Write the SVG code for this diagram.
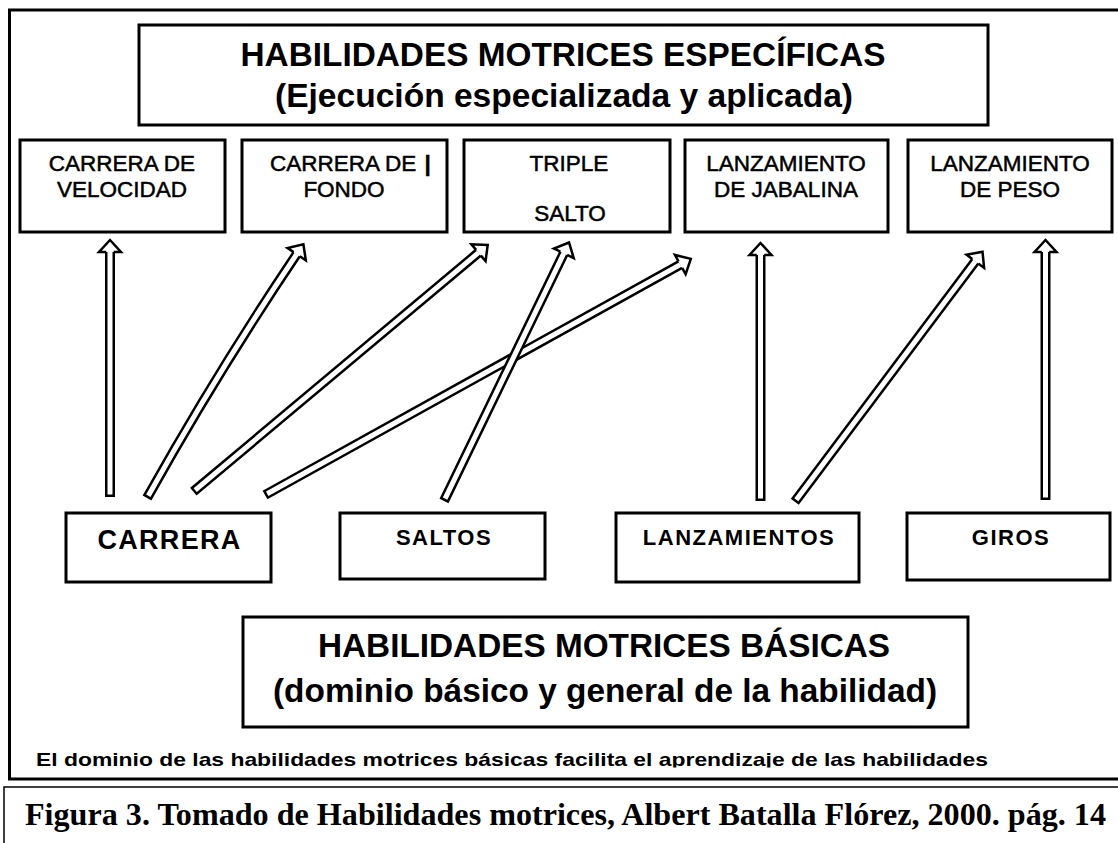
<svg xmlns="http://www.w3.org/2000/svg" width="1118" height="843" viewBox="0 0 1118 843">
<defs>
<style>
.box{fill:#fff;stroke:#000;stroke-width:3}
.frame{fill:none;stroke:#000;stroke-width:3}
.t{font-family:"Liberation Sans",Arial,sans-serif;fill:#000}
.title{font-size:33.4px;font-weight:bold;text-anchor:middle}
.lbl{font-size:22.5px;text-anchor:middle;stroke:#000;stroke-width:0.5px}
.blbl{font-size:22px;font-weight:bold;text-anchor:middle;letter-spacing:1.5px}
.sh{fill:none;stroke:#000;stroke-width:10}
.in{fill:none;stroke:#fff;stroke-width:5;marker-end:url(#head)}
.cap{font-family:"Liberation Serif","Times New Roman",serif;font-weight:bold;font-size:32px;fill:#000}
</style>
<marker id="head" markerUnits="userSpaceOnUse" markerWidth="30" markerHeight="30" viewBox="-15 -15 30 30" refX="0" refY="0" orient="auto" overflow="visible">
<path d="M0,-3.75 L0,-11 L12,0 L0,11 L0,3.75" fill="#fff" stroke="#000" stroke-width="2.5"/>
</marker>
<clipPath id="footclip"><rect x="0" y="730" width="1118" height="37.5"/></clipPath>
</defs>
<rect width="1118" height="843" fill="#fff"/>
<rect class="frame" x="9.5" y="10" width="1120" height="769"/>
<rect x="4" y="787" width="1120" height="100" fill="none" stroke="#000" stroke-width="1.5"/>

<g id="title-especificas">
<rect class="box" x="139" y="25" width="849" height="100"/>
<text class="t title" x="563" y="66" textLength="645" lengthAdjust="spacingAndGlyphs">HABILIDADES MOTRICES ESPECÍFICAS</text>
<text class="t title" x="564" y="107" textLength="578" lengthAdjust="spacingAndGlyphs">(Ejecución especializada y aplicada)</text>
</g>

<g id="carrera-velocidad">
<rect class="box" x="20" y="140" width="205" height="92"/>
<text class="t lbl" x="122" y="171">CARRERA DE</text>
<text class="t lbl" x="122" y="197">VELOCIDAD</text>
</g>
<g id="carrera-fondo">
<rect class="box" x="242" y="140" width="205" height="92"/>
<text class="t" x="270" y="171" font-size="22.5" stroke="#000" stroke-width="0.5">CARRERA DE <tspan font-weight="bold" dx="2">|</tspan></text>
<text class="t lbl" x="344" y="197">FONDO</text>
</g>
<g id="triple-salto">
<rect class="box" x="464" y="140" width="206" height="92"/>
<text class="t lbl" x="569" y="171">TRIPLE</text>
<text class="t lbl" x="570" y="221">SALTO</text>
</g>
<g id="lanzamiento-jabalina">
<rect class="box" x="685" y="140" width="203" height="92"/>
<text class="t lbl" x="786" y="171">LANZAMIENTO</text>
<text class="t lbl" x="786" y="197">DE JABALINA</text>
</g>
<g id="lanzamiento-peso">
<rect class="box" x="908" y="140" width="204" height="92"/>
<text class="t lbl" x="1010" y="171">LANZAMIENTO</text>
<text class="t lbl" x="1010" y="197">DE PESO</text>
</g>

<g id="connectors">
<path class="sh" d="M110,497 L110,252"/>
<path class="in" d="M110,494.5 L110,252"/>
<path class="sh" d="M147,498 Q216.8,373 296.7,254.2"/>
<path class="in" d="M148.3,495.8 Q216.8,373 296.7,254.2"/>
<path class="sh" d="M193.3,491.7 L478.5,252.7"/>
<path class="in" d="M195.2,490.1 L478.5,252.7"/>
<path class="sh" d="M265,495 L680.3,264.6"/>
<path class="in" d="M267.2,493.8 L680.3,264.6"/>
<path class="sh" d="M444,501 L563.8,253.3"/>
<path class="in" d="M445.1,498.7 L563.8,253.3"/>
<path class="sh" d="M760.5,501 L760.5,255"/>
<path class="in" d="M760.5,498.5 L760.5,255"/>
<path class="sh" d="M794.8,501.7 L975.3,261.3"/>
<path class="in" d="M796.3,499.7 L975.3,261.3"/>
<path class="sh" d="M1045.5,500 L1045.5,252"/>
<path class="in" d="M1045.5,497.5 L1045.5,252"/>
</g>

<g id="carrera">
<rect class="box" x="66" y="513" width="205" height="69"/>
<text class="t" x="169.5" y="549" font-size="27" font-weight="bold" text-anchor="middle" letter-spacing="1.3">CARRERA</text>
</g>
<g id="saltos">
<rect class="box" x="340" y="513" width="205" height="66"/>
<text class="t blbl" x="444" y="545">SALTOS</text>
</g>
<g id="lanzamientos">
<rect class="box" x="616" y="513" width="243" height="69"/>
<text class="t blbl" x="739" y="545">LANZAMIENTOS</text>
</g>
<g id="giros">
<rect class="box" x="907" y="513" width="203" height="67"/>
<text class="t blbl" x="1011" y="545">GIROS</text>
</g>

<g id="title-basicas">
<rect class="box" x="243" y="617" width="725" height="110"/>
<text class="t title" x="604" y="657" textLength="572" lengthAdjust="spacingAndGlyphs">HABILIDADES MOTRICES BÁSICAS</text>
<text class="t title" x="605" y="702" textLength="664" lengthAdjust="spacingAndGlyphs">(dominio básico y general de la habilidad)</text>
</g>

<g id="footer" clip-path="url(#footclip)">
<text class="t" x="36" y="765.5" font-size="18.5" font-weight="bold" textLength="952" lengthAdjust="spacingAndGlyphs">El dominio de las habilidades motrices básicas facilita el aprendizaje de las habilidades</text>
</g>

<text id="caption" class="cap" x="25" y="825" textLength="1081" lengthAdjust="spacingAndGlyphs">Figura 3. Tomado de Habilidades motrices, Albert Batalla Flórez, 2000. pág. 14</text>
</svg>
